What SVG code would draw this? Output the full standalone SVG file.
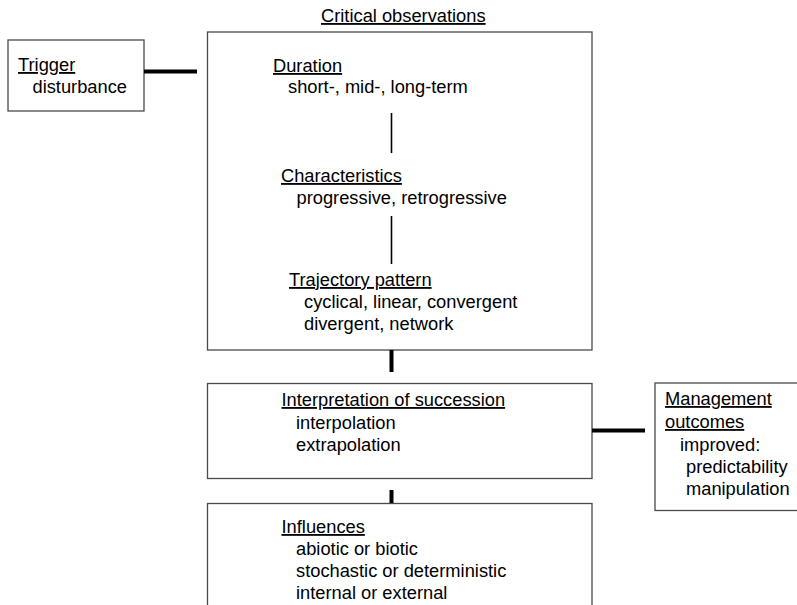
<svg xmlns="http://www.w3.org/2000/svg" width="797" height="605" viewBox="0 0 797 605">
<style>
.box{fill:#fff;stroke:#4a4a4a;stroke-width:1.3}
.t{font-family:"Liberation Sans",Arial,sans-serif;font-size:18.3px;fill:#000}
.u{text-decoration:underline}
.thick{stroke:#000;stroke-width:4;fill:none}
.thin{stroke:#000;stroke-width:1.6;fill:none}
</style>
<rect width="797" height="605" fill="#fff"/>
<g id="trigger">
<rect class="box" x="8" y="40" width="136" height="71"/>
<text class="t u" x="18" y="71">Trigger</text>
<text class="t" x="32.5" y="93">disturbance</text>
</g>
<g id="critical-observations">
<text class="t u" x="321" y="22">Critical observations</text>
<rect class="box" x="207.5" y="32" width="384.5" height="318"/>
<text class="t u" x="273" y="72">Duration</text>
<text class="t" x="288" y="93">short-, mid-, long-term</text>
<text class="t u" x="281" y="182">Characteristics</text>
<text class="t" x="296.5" y="204">progressive, retrogressive</text>
<text class="t u" x="289" y="286">Trajectory pattern</text>
<text class="t" x="304" y="308">cyclical, linear, convergent</text>
<text class="t" x="304" y="330">divergent, network</text>
</g>
<g id="interpretation">
<rect class="box" x="207.5" y="383.5" width="384.5" height="95"/>
<text class="t u" x="281.5" y="406">Interpretation of succession</text>
<text class="t" x="296" y="429">interpolation</text>
<text class="t" x="296" y="451">extrapolation</text>
</g>
<g id="influences">
<rect class="box" x="207.5" y="503.5" width="384.5" height="120"/>
<text class="t u" x="281.5" y="533">Influences</text>
<text class="t" x="296" y="555">abiotic or biotic</text>
<text class="t" x="296" y="577">stochastic or deterministic</text>
<text class="t" x="296" y="599">internal or external</text>
</g>
<g id="management">
<rect class="box" x="655" y="383" width="160" height="127.5"/>
<text class="t u" x="665" y="405">Management</text>
<text class="t u" x="665" y="428">outcomes</text>
<text class="t" x="680" y="451">improved:</text>
<text class="t" x="686" y="473">predictability</text>
<text class="t" x="686" y="495">manipulation</text>
</g>
<g id="connectors">
<line class="thick" x1="144" y1="71.5" x2="197" y2="71.5"/>
<line class="thin" x1="391.5" y1="113" x2="391.5" y2="153"/>
<line class="thin" x1="391.5" y1="216" x2="391.5" y2="264"/>
<line class="thick" x1="391.5" y1="350" x2="391.5" y2="372"/>
<line class="thick" x1="391.5" y1="490" x2="391.5" y2="503"/>
<line class="thick" x1="592" y1="430.5" x2="645" y2="430.5"/>
</g>
</svg>
